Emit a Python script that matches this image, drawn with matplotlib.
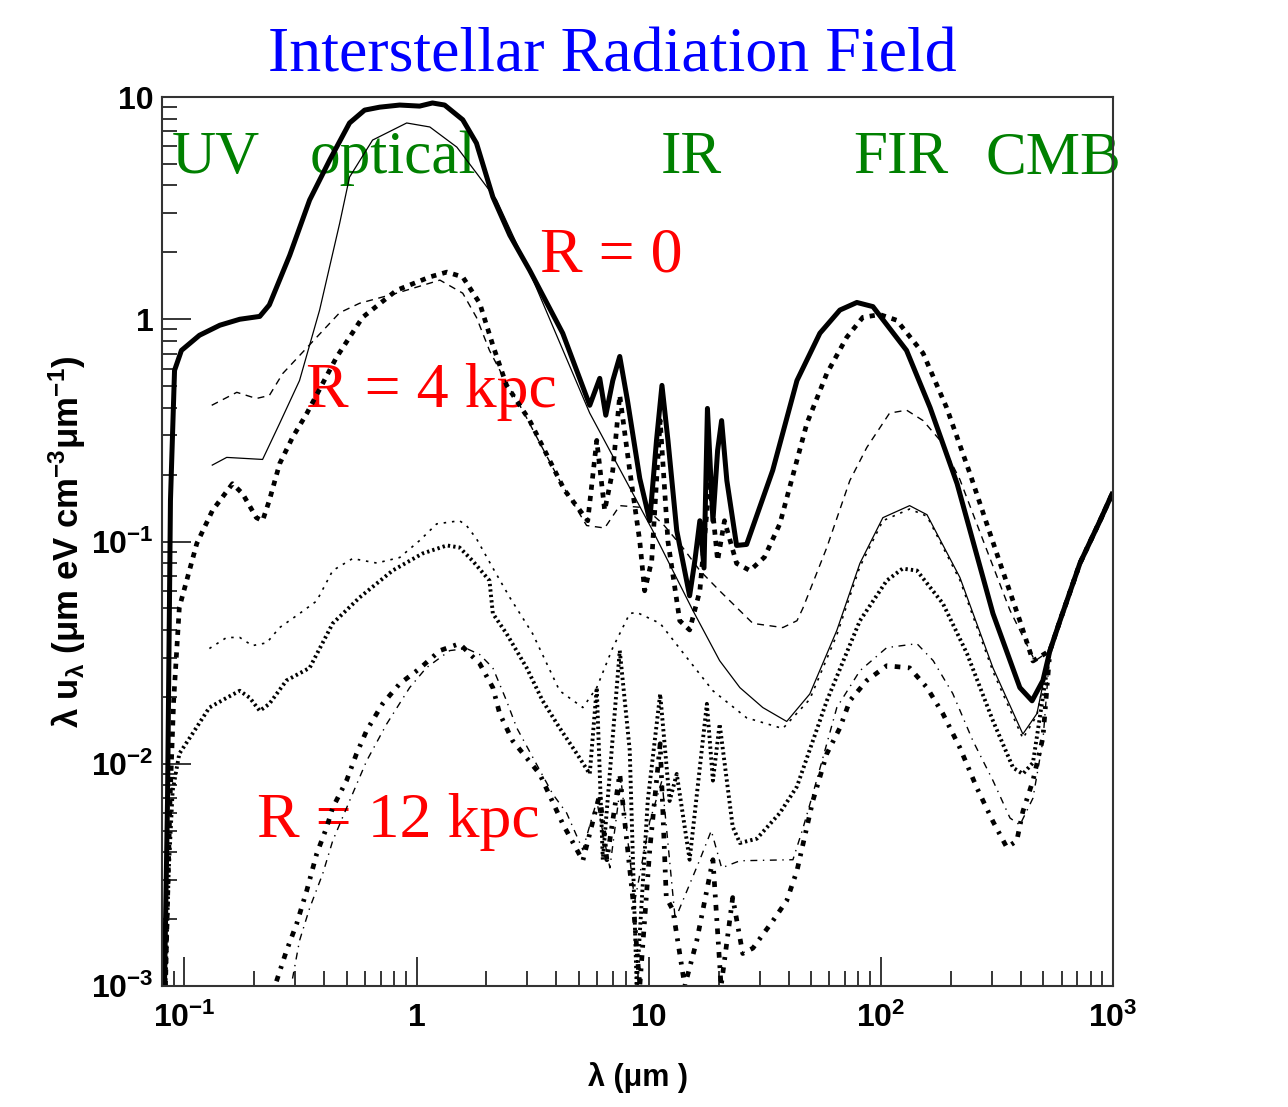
import matplotlib
matplotlib.use("Agg")
import matplotlib.pyplot as plt
from matplotlib.ticker import FixedLocator, LogLocator, NullFormatter, FixedFormatter

plt.rcParams['mathtext.default'] = 'regular'

# ---- data (wavelength in um, lambda*u_lambda) ----
# CMB tail, shared by all curves
lam_cmb = [535, 591, 721, 879, 1000]
u_cmb = [0.0323, 0.044, 0.08, 0.124, 0.167]

# R = 0, total (thick solid)
lam_r0_tot = [0.082, 0.0845, 0.087, 0.0906, 0.097, 0.116, 0.142, 0.173, 0.211, 0.232, 0.284, 0.346,
              0.422, 0.514, 0.597, 0.693, 0.845, 1.03, 1.17, 1.32, 1.58, 1.81, 2.13, 2.52, 3.07, 4.26,
              5.57, 6.15, 6.53, 7.0, 7.5, 8.1, 9.15, 10.1, 10.8, 11.4, 12.1, 13.2, 15.0, 15.8, 16.6,
              17.3, 17.9, 18.9, 19.8, 20.6, 21.7, 23.9, 26.4, 34.2, 43.5, 54.6, 66.6, 78.8, 92.4,
              129, 163, 213, 304, 397, 448, 499]
u_r0_tot = [0.001, 0.0068, 0.153, 0.589, 0.724, 0.847, 0.94, 1.0, 1.03, 1.16, 1.94, 3.44,
            5.2, 7.64, 8.73, 9.0, 9.2, 9.1, 9.4, 9.2, 7.9, 6.2, 3.55, 2.39, 1.66, 0.865,
            0.41, 0.542, 0.37, 0.53, 0.68, 0.43, 0.192, 0.124, 0.285, 0.504, 0.285, 0.112, 0.057, 0.082, 0.124,
            0.076, 0.397, 0.124, 0.257, 0.35, 0.188, 0.096, 0.097, 0.209, 0.53, 0.865, 1.1, 1.19, 1.14,
            0.724, 0.40, 0.182, 0.0474, 0.022, 0.0192, 0.0237]

# R = 0, second curve (thin solid)
lam_r0_b = [0.131, 0.152, 0.217, 0.257, 0.313, 0.382, 0.466, 0.514, 0.646, 0.906, 1.14, 1.49, 1.81,
            2.21, 3.07, 5.57, 10.4, 15.5, 20.2, 24.7, 31.0, 39.3, 49.4, 64.6, 81.2, 102, 133, 158,
            219, 304, 409, 470]
u_r0_b = [0.22, 0.239, 0.234, 0.34, 0.53, 1.1, 2.7, 4.36, 6.4, 7.64, 7.33, 5.95, 4.55,
          3.44, 1.63, 0.378, 0.112, 0.0489, 0.0291, 0.022, 0.0179, 0.0155, 0.0206, 0.0398, 0.0797, 0.128, 0.145, 0.132,
          0.0689, 0.027, 0.0136, 0.0168]

# R = 4 kpc, total (heavy dotted)
lam_r4_tot = [0.0828, 0.0866, 0.0898, 0.095, 0.113, 0.132, 0.161, 0.178, 0.204, 0.217, 0.232, 0.257,
              0.292, 0.336, 0.452, 0.585, 0.82, 1.14, 1.35, 1.58, 1.87, 2.13, 2.44, 3.07, 3.56, 4.34,
              5.46, 5.97, 6.46, 7.0, 7.5, 8.28, 9.15, 9.6, 10.3, 11.2, 12.1, 13.6, 15.0, 16.6, 18.3,
              19.8, 21.2, 23.9, 27.3, 31.5, 36.7, 48, 58.5, 71.3, 83.6, 99, 117, 152, 192, 242, 286,
              326, 397, 452]
u_r4_tot = [0.001, 0.0068, 0.0192, 0.0505, 0.098, 0.138, 0.182, 0.164, 0.128, 0.124, 0.153, 0.224,
            0.294, 0.376, 0.675, 1.02, 1.35, 1.55, 1.63, 1.55, 1.18, 0.764, 0.505, 0.35, 0.257, 0.17,
            0.124, 0.285, 0.138, 0.209, 0.455, 0.209, 0.10, 0.06, 0.082, 0.35, 0.10, 0.044, 0.04, 0.06, 0.188,
            0.082, 0.124, 0.0797, 0.074, 0.085, 0.12, 0.34, 0.57, 0.83, 1.02, 1.05, 0.99, 0.703, 0.40, 0.202, 0.12,
            0.08, 0.044, 0.029]

# R = 4 kpc, second curve (thin dashed)
lam_r4_b = [0.131, 0.168, 0.204, 0.232, 0.265, 0.466, 0.568, 0.82, 1.26, 1.58, 1.81, 2.06, 2.44, 2.86,
            4.13, 5.4, 6.46, 7.5, 9.6, 11.5, 14.0, 16.6, 20.2, 28.1, 37.8, 43.5, 46.1, 58.5, 73.5, 87,
            109, 129, 152, 180, 219, 281, 360, 461]
u_r4_b = [0.41, 0.469, 0.44, 0.454, 0.57, 1.07, 1.18, 1.31, 1.5, 1.31, 1.02, 0.724, 0.515, 0.39,
          0.188, 0.118, 0.115, 0.145, 0.142, 0.12, 0.094, 0.074, 0.060, 0.0428, 0.041, 0.044, 0.05, 0.094, 0.188, 0.265,
          0.378, 0.39, 0.35, 0.285, 0.19, 0.096, 0.049, 0.029]

# sparse thin dotted curve
lam_e = [0.128, 0.152, 0.173, 0.196, 0.226, 0.257, 0.313, 0.371, 0.435, 0.53, 0.673, 0.845, 1.03,
         1.22, 1.53, 1.64, 1.81, 2.13, 2.52, 3.16, 4.13, 5.2, 5.97, 7.0, 8.28, 8.87, 11.2, 14.6,
         18.9, 26.4, 37.8, 49.4, 64.6, 81.2, 102, 133, 158, 219, 304, 409, 470]
u_e = [0.033, 0.037, 0.037, 0.034, 0.035, 0.041, 0.0474, 0.054, 0.074, 0.0838, 0.08, 0.0847, 0.101,
       0.12, 0.124, 0.118, 0.103, 0.076, 0.056, 0.0385, 0.0213, 0.0179, 0.022, 0.0333, 0.0474, 0.048, 0.0428, 0.03,
       0.0213, 0.0161, 0.0144, 0.0195, 0.038, 0.077, 0.124, 0.14, 0.13, 0.067, 0.026, 0.013, 0.0165]

# dense hatched dotted curve
lam_f = [0.0828, 0.0855, 0.0889, 0.095, 0.108, 0.128, 0.152, 0.173, 0.191, 0.211, 0.232, 0.275, 0.346,
         0.435, 0.568, 0.788, 1.06, 1.35, 1.53, 1.74, 2.06, 2.13, 2.44, 2.98, 3.49, 4.13, 4.9, 5.57,
         5.97, 6.34, 7.5, 8.28, 8.87, 9.9, 11.2, 12.3, 13.2, 15.0, 17.8, 18.9, 20.2, 23.0, 24.7, 29.2,
         36.7, 43.5, 58.5, 81.2, 106, 124, 143, 185, 235, 304, 371, 409, 452]
u_f = [0.001, 0.0033, 0.00755, 0.0111, 0.0136, 0.0179, 0.0198, 0.0213, 0.0198, 0.0173, 0.0186, 0.0237, 0.027,
       0.0428, 0.056, 0.074, 0.0883, 0.096, 0.094, 0.082, 0.0667, 0.0474, 0.0385, 0.027, 0.0192, 0.0145, 0.0111, 0.009,
       0.022, 0.0037, 0.0323, 0.0115, 0.001, 0.0068, 0.0206, 0.0068, 0.009, 0.0037, 0.0186, 0.0084, 0.0151, 0.0052, 0.0044, 0.0046,
       0.006, 0.0079, 0.0192, 0.044, 0.0667, 0.0755, 0.074, 0.0526, 0.0313, 0.0156, 0.0096, 0.009, 0.0101]

# R = 12 kpc, total (heavy dot-dash)
lam_r12_tot = [0.249, 0.275, 0.304, 0.336, 0.371, 0.409, 0.435, 0.499, 0.551, 0.609, 0.713, 0.845, 1.03,
               1.26, 1.53, 1.87, 2.13, 2.28, 2.59, 3.39, 4.26, 5.2, 6.15, 6.6, 7.5, 8.53, 9.15, 10.1,
               11.2, 11.9, 12.7, 14.3, 16.1, 18.9, 20.5, 23.0, 25.4, 28.1, 34.2, 39.3, 43.5, 50.9, 58.5,
               66.6, 73.5, 87, 106, 133, 158, 185, 219, 259, 304, 349, 385, 409, 452, 499]
u_r12_tot = [0.00105, 0.00144, 0.0019, 0.00268, 0.00393, 0.00515, 0.00634, 0.0084, 0.0111, 0.0141, 0.0186, 0.0229, 0.0268,
             0.0323, 0.0347, 0.0282, 0.022, 0.0168, 0.0127, 0.009, 0.00537, 0.00366, 0.0073, 0.0037, 0.009, 0.0025, 0.001, 0.0041,
             0.0123, 0.0025, 0.0022, 0.001, 0.0016, 0.0037, 0.001, 0.0025, 0.0014, 0.00148, 0.00196, 0.00242, 0.0033, 0.0068, 0.0111,
             0.0145, 0.0192, 0.0237, 0.0276, 0.027, 0.022, 0.0168, 0.0118, 0.0078, 0.0055, 0.0042, 0.0045, 0.0061, 0.0084, 0.0131]

# R = 12 kpc, second curve (thin dash-dot)
lam_r12_b = [0.292, 0.313, 0.346, 0.394, 0.435, 0.514, 0.609, 0.743, 0.933, 1.1, 1.39, 1.64, 1.87,
             2.13, 2.44, 2.7, 3.86, 4.43, 5.2, 5.97, 6.8, 7.6, 8.7, 10.1, 11.4, 13.0, 16.6, 18.6, 20.6,
             24.7, 41.8, 46.1, 50.9, 64.6, 81.2, 106, 143, 168, 204, 249, 304, 360, 397, 452, 499]
u_r12_b = [0.00108, 0.0016, 0.00224, 0.0032, 0.0045, 0.0068, 0.0103, 0.0151, 0.022, 0.027, 0.0323, 0.033, 0.031,
           0.027, 0.0192, 0.0145, 0.0073, 0.006, 0.0041, 0.0068, 0.0034, 0.0084, 0.0024, 0.0055, 0.0084, 0.002, 0.0037, 0.005, 0.0034,
           0.00366, 0.0037, 0.0051, 0.0073, 0.0179, 0.0262, 0.0333, 0.0347, 0.0291, 0.0207, 0.0127, 0.0084, 0.0057, 0.0053, 0.007, 0.0127]

x_ticks = [0.1, 1, 10, 100, 1000]
x_ticklabels = ['10$^{-1}$', '1', '10', '10$^{2}$', '10$^{3}$']
y_ticks = [0.001, 0.01, 0.1, 1, 10]
y_ticklabels = ['10$^{-3}$', '10$^{-2}$', '10$^{-1}$', '1', '10']

band_labels = ['UV', 'optical', 'IR', 'FIR', 'CMB']
radius_labels = ['R = 0', 'R = 4 kpc', 'R = 12 kpc']


def main():
    W, H = 1288, 1107
    fig = plt.figure(figsize=(W / 100, H / 100), dpi=100)
    ax = fig.add_axes([162 / W, 1 - 986 / H, (1113 - 162) / W, (986 - 97) / H])
    ax.set_xscale('log')
    ax.set_yscale('log')
    ax.set_xlim(0.08, 1000)
    ax.set_ylim(0.001, 10)

    curves = [
        (lam_r0_tot, u_r0_tot, dict(lw=3.6, ls='-')),
        (lam_r0_b, u_r0_b, dict(lw=0.9, ls='-')),
        (lam_r4_tot, u_r4_tot, dict(lw=3.4, ls=(0, (1.1, 1.3)))),
        (lam_r4_b, u_r4_b, dict(lw=1.0, ls=(0, (5, 4)))),
        (lam_e, u_e, dict(lw=1.2, ls=(0, (1.5, 3.5)))),
        (lam_f, u_f, dict(lw=2.8, ls=(0, (0.6, 0.8)))),
        (lam_r12_tot, u_r12_tot, dict(lw=3.4, ls=(0, (1.2, 1.6, 0.6, 1.6)))),
        (lam_r12_b, u_r12_b, dict(lw=1.0, ls=(0, (5, 4, 1, 4)))),
    ]
    for lam, u, style in curves:
        ax.plot(list(lam) + lam_cmb, list(u) + u_cmb, color='black',
                solid_capstyle='butt', dash_capstyle='butt', zorder=2, **style)

    # ticks (ROOT style: inside, left and bottom only)
    ax.xaxis.set_major_locator(FixedLocator(x_ticks))
    ax.xaxis.set_major_formatter(FixedFormatter(x_ticklabels))
    ax.yaxis.set_major_locator(FixedLocator(y_ticks))
    ax.yaxis.set_major_formatter(FixedFormatter(y_ticklabels))
    for axis in (ax.xaxis, ax.yaxis):
        axis.set_minor_locator(LogLocator(base=10, subs=range(2, 10), numticks=20))
        axis.set_minor_formatter(NullFormatter())
    ax.tick_params(which='both', direction='in', top=False, right=False, width=1.1)
    ax.tick_params(which='major', length=21, labelsize=23)
    ax.tick_params(axis='x', which='major', pad=12)
    ax.tick_params(axis='y', which='major', pad=6)
    ax.tick_params(which='minor', length=10.5)
    for lab in ax.get_xticklabels() + ax.get_yticklabels():
        lab.set_fontfamily('Liberation Sans')
        lab.set_fontweight('bold')
    for sp in ax.spines.values():
        sp.set_linewidth(1.5)
        sp.set_color('#333333')

    ax.set_xlabel('λ (μm )', family='Liberation Sans', fontsize=22, fontweight='bold', labelpad=20)
    ax.set_ylabel('λ u$_{λ}$ (μm eV cm$^{-3}$μm$^{-1}$)', family='Liberation Sans',
                  fontsize=25, fontweight='bold', labelpad=2)

    serif = 'Liberation Serif'
    ax.text(268 / W, 1 - 71 / H, 'Interstellar Radiation Field', transform=fig.transFigure,
            family=serif, fontsize=46, color='#0000ff', va='baseline', ha='left', clip_on=False, zorder=1)

    band_x = [172, 310, 661, 853, 985]
    for lab, bx in zip(band_labels, band_x):
        ax.text(bx / W, 1 - 173 / H, lab, transform=fig.transFigure, family=serif, fontsize=44,
                color='#008000', va='baseline', ha='left', clip_on=False, zorder=1)

    radius_pos = [(540, 272), (306, 407), (257, 837)]
    for lab, (rx, ry) in zip(radius_labels, radius_pos):
        ax.text(rx / W, 1 - ry / H, lab, transform=fig.transFigure, family=serif, fontsize=46,
                color='#ff0000', va='baseline', ha='left', clip_on=False, zorder=1)

    fig.savefig('out.png', dpi=100)


if __name__ == "__main__":
    main()
